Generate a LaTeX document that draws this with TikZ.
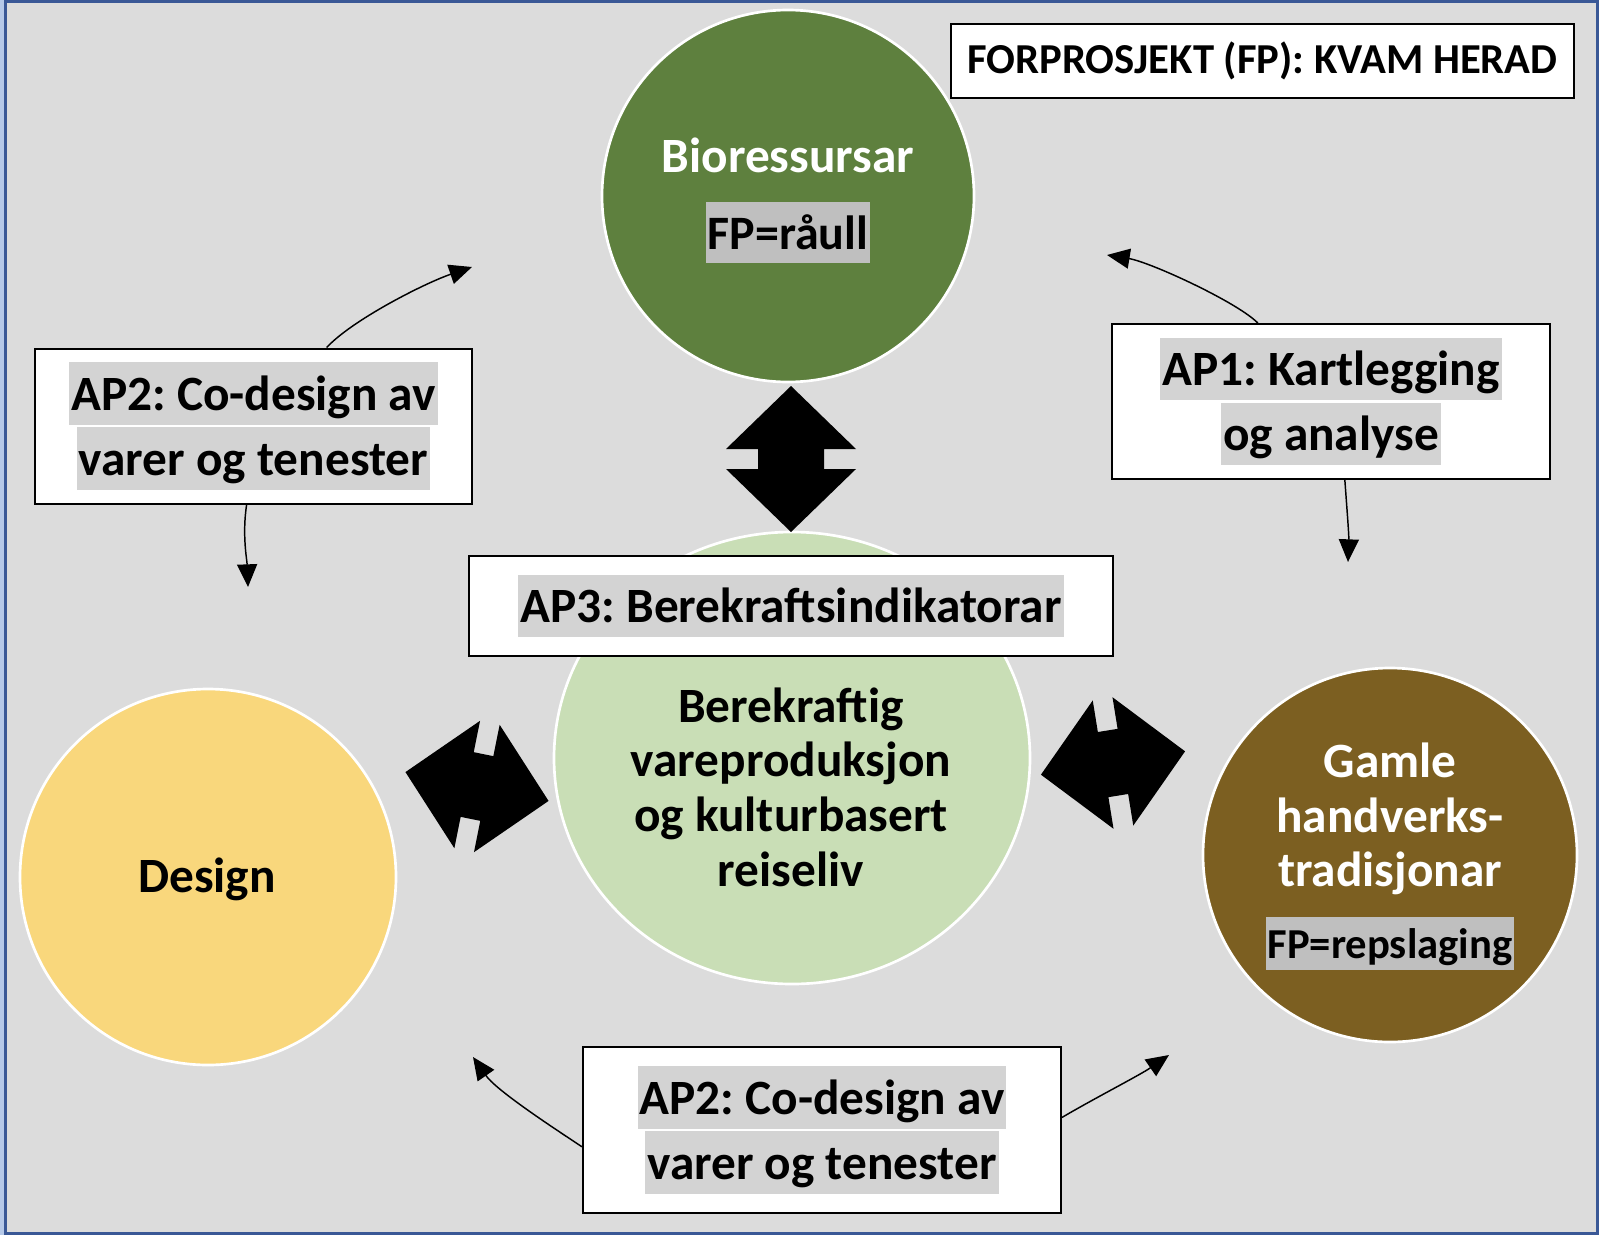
\documentclass[tikz,border=0pt]{standalone}
\usepackage{fontspec}
\setmainfont{Carlito}
\usetikzlibrary{arrows.meta}
\frenchspacing

\definecolor{bggrey}{RGB}{220,220,220}
\definecolor{framedark}{RGB}{58,88,150}
\definecolor{framelight}{RGB}{182,201,232}
\definecolor{biogreen}{RGB}{94,128,62}
\definecolor{coregreen}{RGB}{201,222,182}
\definecolor{designyellow}{RGB}{249,215,124}
\definecolor{craftbrown}{RGB}{124,95,33}
\definecolor{hlgrey}{RGB}{211,211,211}
\definecolor{hldark}{RGB}{191,191,191}

% grey text highlight, one line
\newcommand{\hilite}[2][hlgrey]{{\setlength{\fboxsep}{0pt}\colorbox{#1}{\rule[-0.29em]{0pt}{1.26em}\hspace{1.5pt}#2\hspace{1.5pt}}}}

\tikzset{every picture/.style={line width=0.75pt}}
\tikzset{
  apbox/.style={draw=black, line width=1.5pt, fill=white, inner sep=0pt, align=center,
    font=\bfseries\fontsize{37}{48.75}\selectfont},
  balltext/.style={inner sep=0pt, align=center, font=\bfseries\fontsize{37}{41}\selectfont},
  ball/.style={draw=white, line width=2pt},
  flow/.style={line width=1.1pt, -{Triangle[length=17pt,width=15pt]}},
  pics/dblarrow/.style={code={
    \fill[black] (-73,0) -- (-10,-65) -- (-10,-33) -- (10,-33) -- (10,-65) -- (73,0)
      -- (10,65) -- (10,33) -- (-10,33) -- (-10,65) -- cycle;}}
}

\begin{document}
\begin{tikzpicture}[x=0.75pt,y=0.75pt,yscale=-1,xscale=1]
\useasboundingbox (0,0) rectangle (1599,1235);

% background and frame
\fill[framelight] (0,0) rectangle (1599,1235);
\draw[framedark, line width=2.25pt, fill=bggrey] (5.5,1.5) rectangle (1597.5,1233.5);

% circles
\draw[ball, fill=biogreen] (788,196) circle [radius=186];
\draw[ball, fill=coregreen] (792,758) circle [x radius=238, y radius=226];
\draw[ball, fill=designyellow] (208,877) circle [radius=188];
\draw[ball, fill=craftbrown] (1390,855) circle [radius=187];

% texts in circles
\node[balltext, text=white, anchor=base] (biotitle) at (788,172) {Bioressursar};
\node[balltext, anchor=base, font=\bfseries\fontsize{36}{41}\selectfont] (biofp) at (788,249) {\hilite[hldark]{FP=råull}};
\node[balltext] (coretext) at (791,787) {Berekraftig\\vareproduksjon\\og kulturbasert\\reiseliv};
\node[balltext, anchor=base] (designtext) at (207,892) {Design};
\node[balltext, text=white] (crafttext) at (1390,819) {Gamle\\handverks-\\tradisjonar};
\node[balltext, anchor=base, font=\bfseries\fontsize{32}{38}\selectfont] (craftfp) at (1390,958) {\hilite[hldark]{FP=repslaging}};

% double arrows
\pic[rotate=90] at (791,459) {dblarrow};
\pic[rotate=-11.4] at (477,786.5) {dblarrow};
\pic[rotate=9.2] at (1113,763) {dblarrow};

% boxes
\node[apbox, minimum width=467.25pt, minimum height=55.5pt, font=\bfseries\fontsize{32}{37}\selectfont] (title) at (1262.5,61) {FORPROSJEKT (FP): KVAM HERAD};
\node[apbox, minimum width=327.75pt, minimum height=116.25pt] (ap2l) at (253.5,426) {\hilite{AP2: Co-design av}\\\hilite{varer og tenester}};
\node[apbox, minimum width=328.5pt, minimum height=116.25pt] (ap1) at (1331,401.5) {\hilite{AP1: Kartlegging}\\\hilite{og analyse}};
\node[apbox, minimum width=483pt, minimum height=75pt] (ap3) at (791,606) {\hilite{AP3: Berekraftsindikatorar}};
\node[apbox, minimum width=358.5pt, minimum height=124.5pt] (ap2b) at (822,1130) {\hilite{AP2: Co-design av}\\\hilite{varer og tenester}};

% arrow ends
\coordinate (tip1) at (472,267);
\coordinate (tip2) at (248,587);
\coordinate (tip3) at (1107,255);
\coordinate (tip4) at (1348,562);
\coordinate (tip5) at (473,1057);
\coordinate (tip6) at (1169,1055);

% curved arrows
\draw[flow] (ap2l.47) .. controls (352,320) and (425,283) .. (tip1);
\draw[flow] (ap2l.-95) .. controls (242,535) and (247,560) .. (tip2);
\draw[flow] (ap1.133) .. controls (1237,302) and (1150,262) .. (tip3);
\draw[flow] (ap1.-80) .. controls (1347,510) and (1349,535) .. (tip4);
\draw[flow] (ap2b.184) .. controls (549,1125) and (496,1090) .. (tip5);
\draw[flow] (ap2b.3) .. controls (1095,1098) and (1140,1075) .. (tip6);

\end{tikzpicture}
\end{document}
